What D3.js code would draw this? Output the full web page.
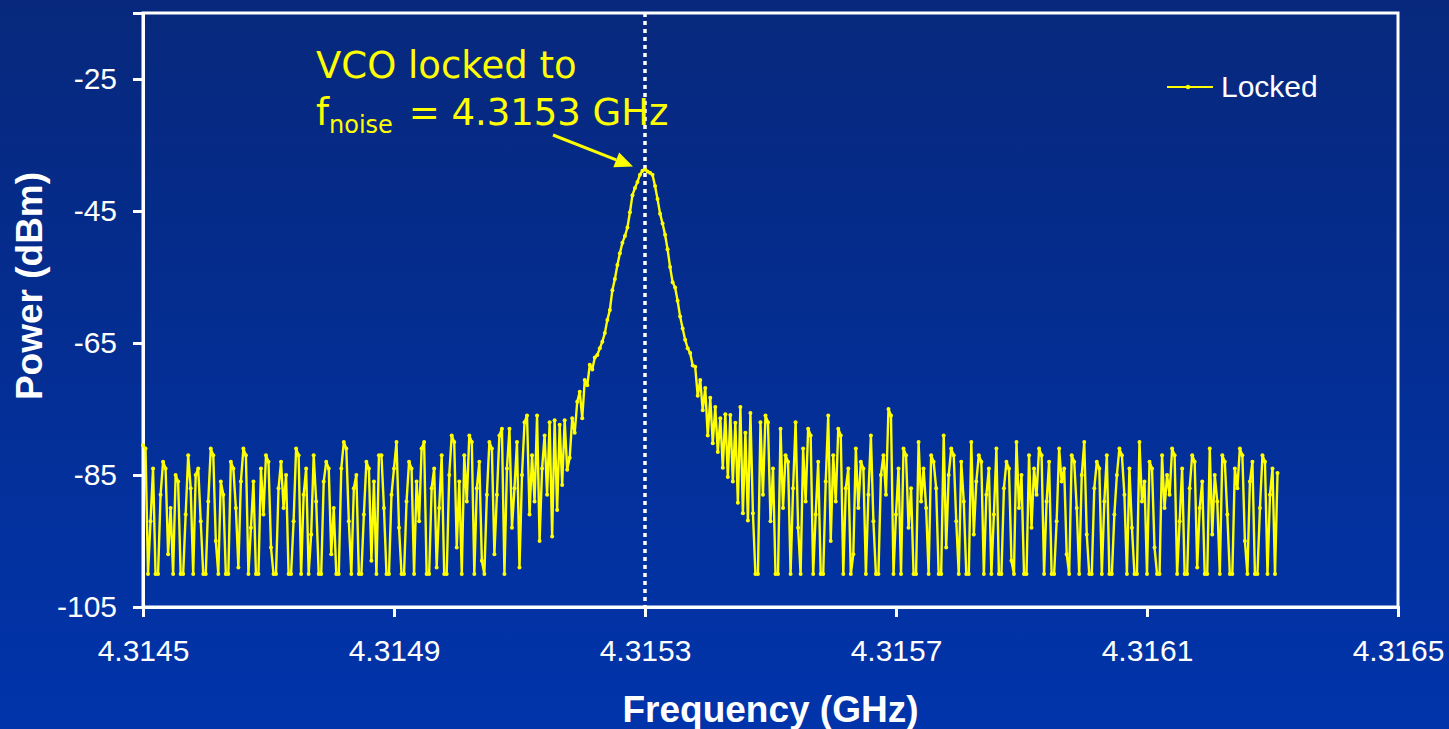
<!DOCTYPE html>
<html>
<head>
  <meta charset="UTF-8">
  <style>
    html, body {
      margin: 0;
      padding: 0;
    }
    body {
      width: 1449px;
      height: 729px;
      overflow: hidden;
      background: #0330a0;
    }
    svg {
      display: block;
    }
  </style>
</head>
<body>
<svg></svg>
<script src="https://d3js.org/d3.v7.min.js"></script>

<script>
  // sweep grid of the analyzer
  const freqStart = 4.3145, freqStep = 0.000004;

  const noiseLeft = [
    -80.5, -81, -100, -92, -84, -100, -100, -88, -83, -84, -97, -90, -100, -85, -86, -100, -100, -91, -82, -87,
    -100, -85, -84, -92, -100, -100, -89, -81, -82, -95, -100, -86, -88, -100, -100, -83, -84, -90, -99, -86,
    -81, -82, -100, -93, -86, -100, -100, -84, -91, -82, -83, -96, -100, -100, -87, -83, -90, -85, -100, -100,
    -92, -81, -82, -100, -88, -84, -100, -94, -82, -89, -100, -100, -86, -83, -84, -97, -90, -100, -100, -84,
    -80, -81, -92, -100, -87, -85, -100, -100, -91, -83, -84, -98, -86, -100, -82, -82, -90, -100, -100, -88,
    -84, -80, -93, -100, -100, -89, -83, -84, -100, -86, -92, -81, -80, -100, -100, -87, -84, -99, -90, -82,
    -100, -100, -85, -79, -80, -96, -86, -100, -82, -89, -79, -80, -100, -87, -83, -98, -100, -88, -80, -81,
    -97, -88, -79, -78, -100, -84, -78, -93, -87, -80, -99, -85, -77, -76, -91, -82, -89, -76, -95, -84, -79, -88, -77
  ];
  const riseLeft = [
    -94.3, -76.7, -90.3, -77.4, -86.5, -76.7, -84.2, -82.4, -76.4, -78.6,
    -73.9, -72.4, -76.4, -70.6, -71.4, -68.3, -69.0, -67.2, -66.8
  ];
  const peak = [
    -65.8, -64.8, -63.5, -61.5, -60.0, -57.0, -55.3, -53.2, -51.4, -49.8,
    -48.8, -47.5, -45.2, -42.6, -41.5, -40.6, -39.5, -38.9, -38.7, -39.0,
    -39.2, -39.5, -41.2, -43.2, -45.4, -46.9, -48.6, -50.8, -53.5, -55.8,
    -56.6, -58.6, -61.0, -62.8, -64.5, -65.8, -66.5, -68.4, -68.6, -73.0
  ];
  const fallRight = [
    -70.6, -75.2, -71.8, -79.0, -73.3, -80.2, -74.7, -81.5, -76.4, -83.9, -75.8,
    -85.3, -75.9, -86.0, -77.1, -89.2, -74.7, -90.8, -78.6, -91.9, -75.6, -90.8
  ];
  const noiseRight = [
    -100, -100, -77, -88, -76, -77, -92, -84, -100, -100, -78, -90, -82, -83, -100, -87, -77, -93, -100, -81,
    -89, -78, -79, -100, -91, -83, -100, -100, -86, -76, -95, -82, -89, -78, -79, -100, -87, -84, -100, -97,
    -81, -90, -83, -84, -100, -88, -79, -92, -100, -100, -85, -82, -88, -75, -76, -100, -91, -84, -100, -81,
    -82, -93, -87, -100, -100, -80, -89, -84, -90, -100, -82, -83, -87, -100, -100, -79, -96, -85, -81, -82,
    -92, -100, -83, -89, -100, -100, -80, -94, -86, -82, -83, -100, -88, -84, -100, -91, -81, -100, -100, -87,
    -83, -84, -98, -100, -80, -90, -85, -100, -100, -82, -93, -84, -88, -81, -82, -100, -89, -83, -100, -100,
    -92, -81, -86, -84, -97, -100, -82, -83, -90, -100, -85, -80, -94, -100, -100, -87, -83, -84, -100, -89,
    -82, -100, -100, -91, -85, -81, -82, -88, -100, -84, -93, -100, -100, -80, -89, -86, -100, -83, -84, -96,
    -100, -100, -82, -90, -85, -88, -81, -82, -100, -92, -84, -100, -100, -87, -82, -83, -99, -90, -86, -100,
    -100, -81, -94, -85, -89, -100, -82, -83, -91, -100, -100, -84, -87, -81, -82, -95, -100, -86, -83, -100,
    -100, -90, -82, -83, -100, -88, -84, -100, -84.7
  ];

  const xTicks = [4.3145, 4.3149, 4.3153, 4.3157, 4.3161, 4.3165];
  const yTicks = [-105, -85, -65, -45, -25];
  const lockFreq = 4.3153;
  const seriesName = "Locked";

  const power = [].concat(noiseLeft, riseLeft, peak, fallRight, noiseRight);
  const trace = power.map((p, i) => ({ f: freqStart + i * freqStep, p: p }));

  let width = 1449, height = 729;
  let plot = { left: 143, right: 1398, top: 13, bottom: 607 };

  let svg = d3.select("svg")
      .attr("width", width)
      .attr("height", height);

  // background gradient
  let grad = svg.append("defs").append("linearGradient")
      .attr("id", "bg")
      .attr("x1", 0).attr("y1", 0).attr("x2", 0).attr("y2", 1);
  grad.append("stop").attr("offset", "0%").attr("stop-color", "#07287c");
  grad.append("stop").attr("offset", "100%").attr("stop-color", "#0134ab");
  svg.append("rect")
      .attr("width", width)
      .attr("height", height)
      .attr("fill", "url(#bg)");

  let x = d3.scaleLinear().domain([4.3145, 4.3165]).range([plot.left, plot.right]);
  let y = d3.scaleLinear().domain([-105, -15]).range([plot.bottom, plot.top]);

  // frame
  svg.append("rect")
      .attr("x", plot.left)
      .attr("y", plot.top)
      .attr("width", plot.right - plot.left)
      .attr("height", plot.bottom - plot.top)
      .attr("fill", "none")
      .attr("stroke", "#fff")
      .attr("stroke-width", 3);

  // axes
  let xAxis = svg.append("g")
      .attr("transform", `translate(0,${plot.bottom})`)
      .call(d3.axisBottom(x).tickValues(xTicks).tickSize(10).tickPadding(23).tickFormat(d3.format(".4f")));
  let yAxis = svg.append("g")
      .attr("transform", `translate(${plot.left},0)`)
      .call(d3.axisLeft(y).tickValues(yTicks).tickSize(10).tickPadding(16).tickFormat(d => d));

  [xAxis, yAxis].forEach(g => {
    g.select(".domain").attr("stroke", "#fff").attr("stroke-width", 3);
    g.selectAll(".tick line").attr("stroke", "#fff").attr("stroke-width", 3);
    g.selectAll(".tick text")
      .attr("fill", "#fff")
      .attr("font-family", "'Liberation Sans', Arial, sans-serif")
      .attr("font-size", "30px");
  });

  // dotted marker at the lock frequency
  svg.append("line")
      .attr("x1", x(lockFreq)).attr("x2", x(lockFreq))
      .attr("y1", plot.top).attr("y2", plot.bottom)
      .attr("stroke", "#fff")
      .attr("stroke-width", 3.5)
      .attr("stroke-dasharray", "4,4");

  // spectrum trace
  let line = d3.line().x(d => x(d.f)).y(d => y(d.p));
  svg.append("path")
      .datum(trace)
      .attr("d", line)
      .attr("fill", "none")
      .attr("stroke", "#ffff00")
      .attr("stroke-width", 2.4)
      .attr("stroke-linejoin", "round");
  svg.append("g")
      .selectAll("circle")
      .data(trace)
      .enter()
      .append("circle")
      .attr("cx", d => x(d.f))
      .attr("cy", d => y(d.p))
      .attr("r", 2)
      .attr("fill", "#ffff00");

  // axis titles
  svg.append("text")
      .attr("x", (plot.left + plot.right) / 2)
      .attr("y", 722)
      .attr("text-anchor", "middle")
      .attr("font-family", "'Liberation Sans', Arial, sans-serif")
      .attr("font-size", "37px")
      .attr("font-weight", "bold")
      .attr("fill", "#fff")
      .text("Frequency (GHz)");

  svg.append("text")
      .attr("transform", "translate(42,286) rotate(-90)")
      .attr("text-anchor", "middle")
      .attr("font-family", "'Liberation Sans', Arial, sans-serif")
      .attr("font-size", "37px")
      .attr("font-weight", "bold")
      .attr("fill", "#fff")
      .text("Power (dBm)");

  // annotation
  let note = svg.append("g")
      .attr("font-family", "'DejaVu Sans', Verdana, sans-serif")
      .attr("fill", "#ffff00");
  note.append("text")
      .attr("x", 316).attr("y", 78)
      .attr("font-size", "37px")
      .text("VCO locked to");
  let l2 = note.append("text")
      .attr("x", 316).attr("y", 125)
      .attr("font-size", "37px");
  l2.append("tspan").text("f");
  l2.append("tspan").attr("dy", 8).attr("font-size", "24px").text("noise");
  l2.append("tspan").attr("dy", -8).attr("dx", 4).text(" = 4.3153 GHz");

  // arrow to the peak
  let tip = [x(lockFreq) - 12, y(d3.max(power)) - 3];
  let tail = [553, 135];
  let ang = Math.atan2(tip[1] - tail[1], tip[0] - tail[0]);
  let headLen = 18, headW = 8;
  let base = [tip[0] - headLen * Math.cos(ang), tip[1] - headLen * Math.sin(ang)];
  svg.append("line")
      .attr("x1", tail[0]).attr("y1", tail[1])
      .attr("x2", base[0]).attr("y2", base[1])
      .attr("stroke", "#ffff00")
      .attr("stroke-width", 3);
  svg.append("path")
      .attr("d", "M" + tip.join(",") +
        "L" + [base[0] + headW * Math.sin(ang), base[1] - headW * Math.cos(ang)].join(",") +
        "L" + [base[0] - headW * Math.sin(ang), base[1] + headW * Math.cos(ang)].join(",") + "Z")
      .attr("fill", "#ffff00");

  // legend
  let legend = svg.append("g").attr("transform", "translate(1167,87)");
  legend.append("line")
      .attr("x1", 0).attr("x2", 46)
      .attr("stroke", "#ffff00")
      .attr("stroke-width", 2);
  legend.append("circle")
      .attr("cx", 21).attr("r", 2.2)
      .attr("fill", "#ffff00");
  legend.append("text")
      .attr("x", 54).attr("y", 10)
      .attr("font-family", "'Liberation Sans', Arial, sans-serif")
      .attr("font-size", "30px")
      .attr("fill", "#fff")
      .text(seriesName);
</script>
</body>
</html>
